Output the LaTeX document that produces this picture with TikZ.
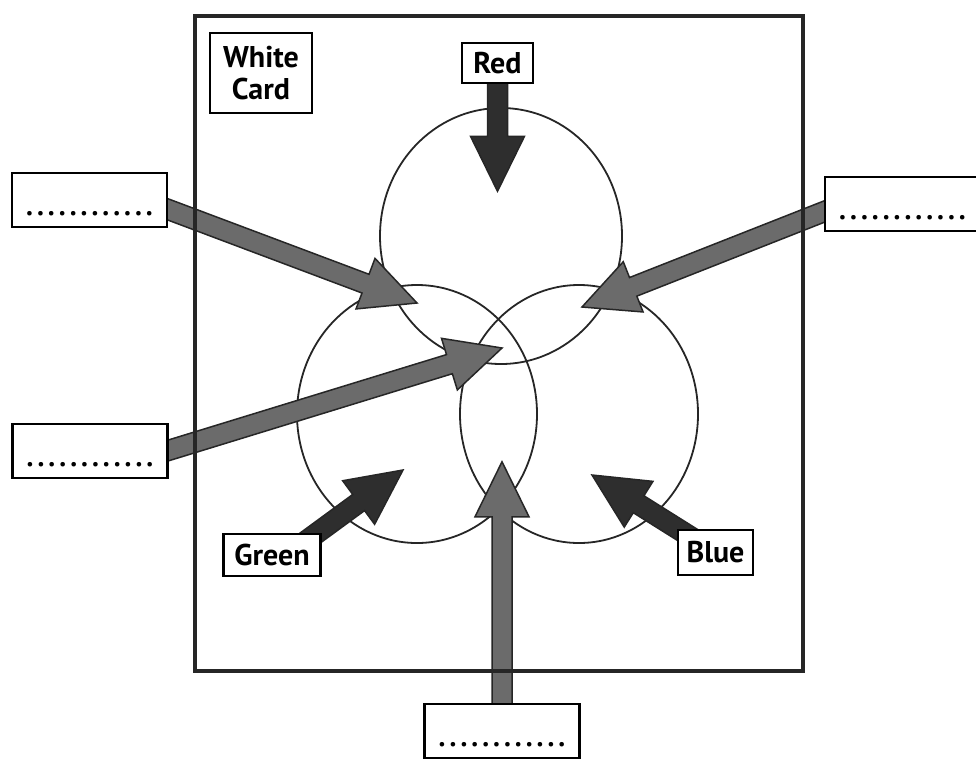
\documentclass[tikz,border=0pt]{standalone}
\usepackage{fontspec}
\setmainfont{PT Sans}
\usetikzlibrary{calc,backgrounds}
\tikzset{
	labelbox/.style  = {shape=rectangle, draw, line width=2.5pt, fill=white,
		inner sep=0pt, align=center, font=\fontsize{30}{32}\selectfont\bfseries},
	dotbox/.style    = {labelbox, minimum width=155pt, minimum height=54pt,
		text height=30pt, text depth=0pt, font=\fontsize{39}{39}\selectfont},
	ring/.style      = {draw=black!85, line width=1.8pt},
	cardline/.style  = {draw=black!85, line width=4.5pt},
	grayarrow/.style = {draw=black!85, line width=1.5pt, fill=black!58},
	darkarrow/.style = {grayarrow, fill=black!82}
}
% block arrow: style, start, tip
\newcommand{\blockarrow}[3]{%
	\path (#2) coordinate (ba-s) (#3) coordinate (ba-t);
	\path ($(ba-t)!55pt!(ba-s)$) coordinate (ba-b);
	\draw[#1] ($(ba-s)!10pt!90:(ba-t)$) -- ($(ba-b)!10pt!90:(ba-t)$)
		-- ($(ba-b)!27pt!90:(ba-t)$) -- (ba-t)
		-- ($(ba-b)!27pt!-90:(ba-t)$) -- ($(ba-b)!10pt!-90:(ba-t)$)
		-- ($(ba-s)!10pt!-90:(ba-t)$) -- cycle;
}
\begin{document}
\begin{tikzpicture}[x=1pt, y=-1pt]
	\useasboundingbox (0,0) rectangle (976,758);

	% the card
	\draw[cardline] (195,16) rectangle (803,671);

	% labels
	\node[labelbox, minimum width=102pt, minimum height=80pt] (card) at (261,73) {White\\Card};
	\node[labelbox, minimum width=71pt, minimum height=40pt] (red) at (497.5,63) {Red};
	\node[labelbox, minimum width=97pt, minimum height=42pt] (green) at (272,555) {Green};
	\node[labelbox, minimum width=75pt, minimum height=45pt] (blue) at (715.5,552.5) {Blue};

	% answer boxes
	\node[dotbox] (tl) at (89.5,200) {............};
	\node[dotbox] (ml) at (90,451) {............};
	\node[dotbox] (rt) at (902.5,204) {............};
	\node[dotbox] (bt) at (502,731) {............};

	% arrow tips
	\coordinate (redtip) at ($(red.south)+(0,107)$);
	\coordinate (tltip) at (417,303);
	\coordinate (rttip) at (582,307);
	\coordinate (mltip) at (502,348);
	\coordinate (greentip) at (403,470);
	\coordinate (bluetip) at (592,475);
	\coordinate (bttip) at ($(bt.north)+(0,-241)$);

	\begin{scope}[on background layer]
		% the three lights
		\draw[ring] (501,236) ellipse [x radius=121pt, y radius=128pt];
		\draw[ring] (417,414) ellipse [x radius=120pt, y radius=129pt];
		\draw[ring] (579,414) ellipse [x radius=119pt, y radius=129pt];

		\blockarrow{darkarrow}{red.center}{redtip}
		\blockarrow{darkarrow}{$(green.center)+(15,0)$}{greentip}
		\blockarrow{darkarrow}{blue.center}{bluetip}
		\blockarrow{grayarrow}{$(tl.east)+(-12,5)$}{tltip}
		\blockarrow{grayarrow}{$(ml.east)+(-12,3)$}{mltip}
		\blockarrow{grayarrow}{$(rt.west)+(12,3)$}{rttip}
		\blockarrow{grayarrow}{bt.center}{bttip}
	\end{scope}
\end{tikzpicture}
\end{document}
